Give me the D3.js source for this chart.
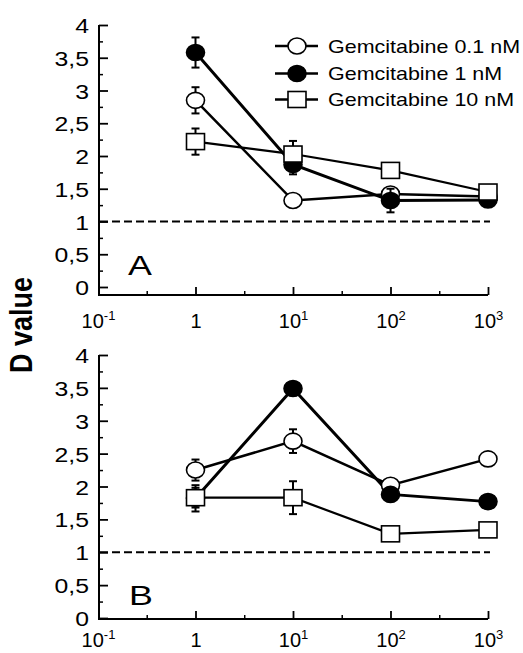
<!DOCTYPE html>
<html>
<head>
<meta charset="utf-8">
<script src="https://cdn.jsdelivr.net/npm/d3@7"></script>
<style>
  html, body { margin: 0; padding: 0; background: #fff; }
  svg { display: block; }
  text { font-family: Arial, "Liberation Sans", Helvetica, sans-serif; fill: #000; }
</style>
</head>
<body>
<svg id="chart" width="523" height="653"></svg>
<script>
// ---------------- DATA ----------------
const categories = [1, 10, 100, 1000];
const seriesNames = ["Gemcitabine 0.1 nM", "Gemcitabine 1 nM", "Gemcitabine 10 nM"];
const xTickValues = [0.1, 1, 10, 100, 1000];
const xTickExponents = ["-1", "", "1", "2", "3"];
const xMinorTicks = [0.316, 3.16, 31.6, 316];
const yTickValues = [0, 0.5, 1, 1.5, 2, 2.5, 3, 3.5, 4];
const yTickLabels = ["0", "0,5", "1", "1,5", "2", "2,5", "3", "3,5", "4"];
const yMinorTicks = [0.25, 0.75, 1.25, 1.75, 2.25, 2.75, 3.25, 3.75];
const referenceLevel = 1;
const axisLabel = "D value";

// Panel A
const aLow = [2.85, 1.32, 1.42, 1.38];
const aLowErr = [0.2, 0.05, 0.1, 0.04];
const aMid = [3.58, 1.87, 1.32, 1.33];
const aMidErr = [0.23, 0.15, 0.18, 0.05];
const aHigh = [2.22, 2.03, 1.78, 1.45];
const aHighErr = [0.2, 0.2, 0.08, 0.05];
// Panel B
const bLow = [2.25, 2.69, 2.02, 2.42];
const bLowErr = [0.16, 0.18, 0.05, 0.05];
const bMid = [1.82, 3.49, 1.88, 1.77];
const bMidErr = [0.2, 0.1, 0.05, 0.05];
const bHigh = [1.83, 1.83, 1.28, 1.34];
const bHighErr = [0.15, 0.25, 0.05, 0.05];

// ---------------- DRAWING ----------------
const svg = d3.select("#chart");
const SX = 1.18; // horizontal stretch of the original scan
const x = d3.scaleLog().domain([0.1, 1000]).range([98, 488]);
const yAxisX = 99;

const styles = [
  { shape: "circle", fill: "#fff", width: 2.5 },
  { shape: "circle", fill: "#000", width: 3 },
  { shape: "square", fill: "#fff", width: 2.2 }
];

function drawMarker(g, shape, fill, cx, cy) {
  if (shape === "circle") {
    g.append("ellipse").attr("cx", cx).attr("cy", cy).attr("rx", 9).attr("ry", 8)
      .attr("fill", fill).attr("stroke", "#000").attr("stroke-width", 1.6);
  } else {
    g.append("rect").attr("x", cx - 9).attr("y", cy - 8).attr("width", 18).attr("height", 16)
      .attr("fill", fill).attr("stroke", "#000").attr("stroke-width", 1.6);
  }
}

function drawPanel(p) {
  const y = d3.scaleLinear().domain([0, 4]).range([p.y0, p.yTop]);
  const g = svg.append("g");

  g.append("line").attr("x1", yAxisX).attr("x2", yAxisX).attr("y1", p.yTop).attr("y2", p.axisY)
    .attr("stroke", "#000").attr("stroke-width", 2);
  g.append("line").attr("x1", yAxisX - 1).attr("x2", x(1000)).attr("y1", p.axisY).attr("y2", p.axisY)
    .attr("stroke", "#000").attr("stroke-width", 2);

  const yAx = d3.axisLeft(y).tickValues(yTickValues).tickSize(-9).tickPadding(0)
    .tickFormat((d, i) => yTickLabels[i]);
  const ya = g.append("g").attr("transform", `translate(${yAxisX},0)`).call(yAx);
  ya.select(".domain").remove();
  ya.selectAll(".tick line").attr("stroke", "#000").attr("stroke-width", 1.8);
  ya.selectAll(".tick text")
    .attr("x", 0).attr("dy", "0.36em")
    .attr("transform", `translate(-10,0) scale(${SX},1)`)
    .style("font-size", "21px").style("font-family", "Arial, 'Liberation Sans', sans-serif");

  const yMin = d3.axisLeft(y).tickValues(yMinorTicks).tickSize(-4).tickFormat("");
  const ym = g.append("g").attr("transform", `translate(${yAxisX},0)`).call(yMin);
  ym.select(".domain").remove();
  ym.selectAll(".tick line").attr("stroke", "#000").attr("stroke-width", 1.5);

  const xAx = d3.axisBottom(x).tickValues(xTickValues).tickSize(-8).tickPadding(p.labelPad)
    .tickFormat(() => "");
  const xa = g.append("g").attr("transform", `translate(0,${p.axisY})`).call(xAx);
  xa.select(".domain").remove();
  xa.selectAll(".tick line").attr("stroke", "#000").attr("stroke-width", 1.8)
    .attr("opacity", (d) => d === 0.1 ? 0 : 1);
  xa.selectAll(".tick text").each(function (d, i) {
    const t = d3.select(this).style("font-size", "20px")
      .style("font-family", "Arial, 'Liberation Sans', sans-serif");
    if (xTickExponents[i] === "") {
      t.text("1");
    } else {
      t.append("tspan").text("10");
      t.append("tspan").attr("dy", "-8").style("font-size", "13px").text(xTickExponents[i]);
    }
  });

  const xMin = d3.axisBottom(x).tickValues(xMinorTicks).tickSize(-4).tickFormat("");
  const xm = g.append("g").attr("transform", `translate(0,${p.axisY})`).call(xMin);
  xm.select(".domain").remove();
  xm.selectAll(".tick line").attr("stroke", "#000").attr("stroke-width", 1.5);

  g.append("line").attr("x1", 100).attr("x2", 490)
    .attr("y1", y(referenceLevel)).attr("y2", y(referenceLevel))
    .attr("stroke", "#000").attr("stroke-width", 1.8).attr("stroke-dasharray", "8,4");

  g.append("text").attr("transform", `translate(${p.letterX},${p.letterY}) scale(1.28,1)`)
    .style("font-size", "28px").text(p.letter);

  const line = d3.line().x((d) => x(d[0])).y((d) => y(d[1]));

  p.series.forEach((s, si) => {
    const pts = categories.map((c, i) => [c, s.values[i]]);
    g.append("path").attr("d", line(pts)).attr("fill", "none")
      .attr("stroke", "#000").attr("stroke-width", styles[si].width);
  });

  p.series.forEach((s, si) => {
    const sg = g.append("g");
    categories.forEach((c, i) => {
      const cx = x(c), v = s.values[i], e = s.errors[i];
      sg.append("line").attr("x1", cx).attr("x2", cx).attr("y1", y(v + e)).attr("y2", y(v - e))
        .attr("stroke", "#000").attr("stroke-width", 2);
      [v + e, v - e].forEach((ev) => {
        sg.append("line").attr("x1", cx - 4).attr("x2", cx + 4).attr("y1", y(ev)).attr("y2", y(ev))
          .attr("stroke", "#000").attr("stroke-width", 2);
      });
    });
    categories.forEach((c, i) => {
      drawMarker(sg, styles[si].shape, styles[si].fill, x(c), y(s.values[i]));
    });
  });
}

drawPanel({
  yTop: 25, y0: 287, axisY: 295, labelPad: 19, letter: "A", letterX: 128, letterY: 275,
  series: [
    { values: aLow, errors: aLowErr },
    { values: aMid, errors: aMidErr },
    { values: aHigh, errors: aHighErr }
  ]
});
drawPanel({
  yTop: 355, y0: 618, axisY: 619, labelPad: 14, letter: "B", letterX: 129, letterY: 605,
  series: [
    { values: bLow, errors: bLowErr },
    { values: bMid, errors: bMidErr },
    { values: bHigh, errors: bHighErr }
  ]
});

const legendRows = [46, 73.5, 99.5];
seriesNames.forEach((name, i) => {
  const lg = svg.append("g");
  lg.append("line").attr("x1", 275).attr("x2", 318).attr("y1", legendRows[i]).attr("y2", legendRows[i])
    .attr("stroke", "#000").attr("stroke-width", 2.5);
  drawMarker(lg, styles[i].shape, styles[i].fill, 297, legendRows[i]);
  lg.append("text").attr("transform", `translate(328,${legendRows[i] + 6.5}) scale(${SX},1)`)
    .style("font-size", "18.2px").text(name);
});

svg.append("text")
  .attr("transform", `translate(32,325) scale(${SX},1) rotate(-90)`)
  .attr("text-anchor", "middle")
  .style("font-size", "27px").style("font-weight", "bold")
  .text(axisLabel);
</script>
</body>
</html>
